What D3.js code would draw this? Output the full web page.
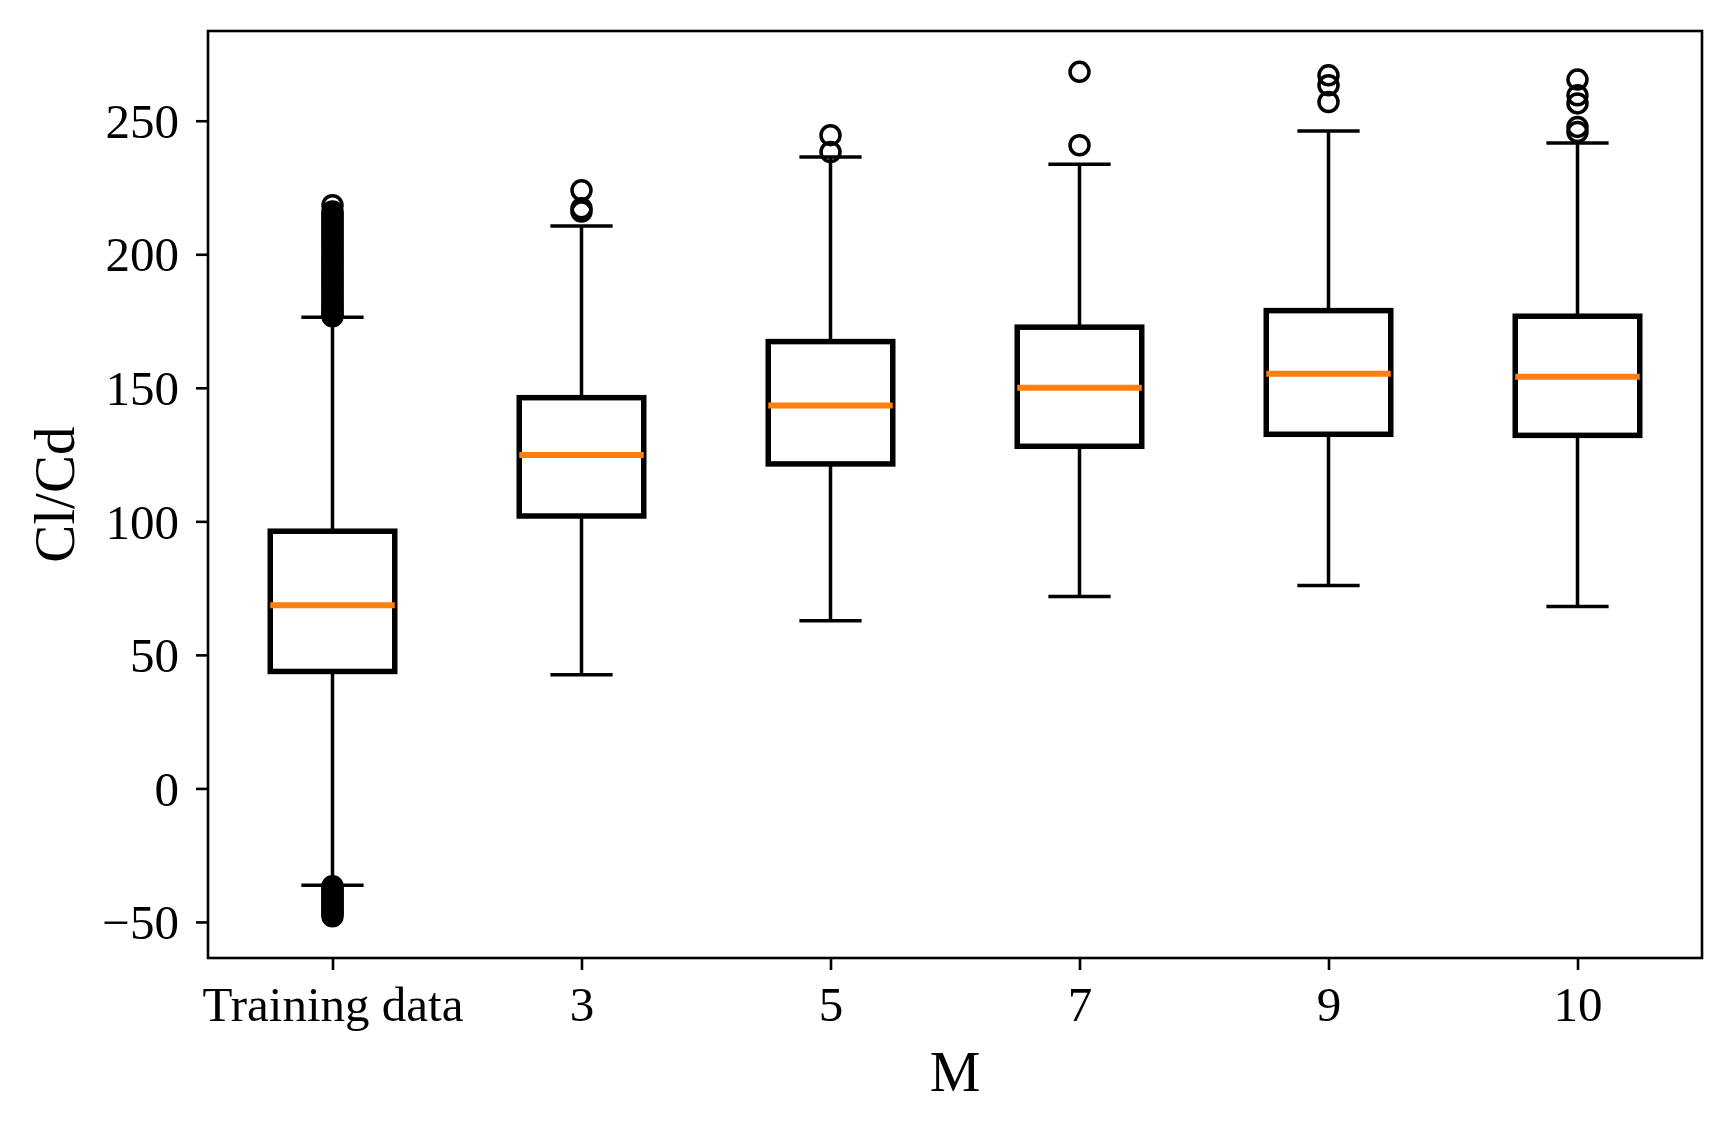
<!DOCTYPE html>
<html>
<head>
    <title>Cl/Cd box plot</title>
    <style>
        body { margin: 0; background: #fff; }
        svg text { font-family: "Liberation Serif", "Times New Roman", serif; fill: #000; }
        .tick text { font-size: 49px; }
        .axis-label { font-size: 57px; }
    </style>
</head>
<body>
    <div id="chart"></div>

    <script src="https://d3js.org/d3.v7.min.js"></script>
    <script>
        // box statistics
        var categories = ["Training data", "3", "5", "7", "9", "10"];
        var q1 = [43.8, 102.0, 121.5, 128.1, 132.6, 132.2];
        var medians = [68.6, 124.8, 143.4, 150.0, 155.3, 154.1];
        var q3 = [96.3, 146.3, 167.3, 172.7, 178.9, 176.8];
        var whiskerLow = [-36.3, 42.6, 62.8, 71.9, 76.0, 68.1];
        var whiskerHigh = [176.4, 210.6, 236.4, 233.7, 246.2, 241.7];
        var fliers = [
            [176.8, 177.6, 178.5, 179.3, 180.2, 181, 182, 183, 184, 185, 186, 187, 188, 189, 190,
             191, 192, 193, 194, 195, 196, 197, 198, 199, 200, 201, 202, 203, 204, 205, 206, 207,
             208, 209, 210, 211, 212, 213, 214, 215, 216, 218.4,
             -36.6, -37.4, -38.2, -39, -39.8, -40.6, -41.4, -42.2, -43, -43.8, -44.6, -45.4,
             -46.2, -47, -47.9],
            [216.0, 217.2, 224.0],
            [238.3, 244.6],
            [240.8, 268.3],
            [257.0, 263.3, 267.0],
            [245.8, 247.7, 256.5, 259.5, 265.4]
        ];
        var yTicks = [-50, 0, 50, 100, 150, 200, 250];

        var width = 1733, height = 1134;
        var margin = { top: 31, right: 31, bottom: 176, left: 208 };

        var svg = d3.select("#chart").append("svg")
            .attr("width", width)
            .attr("height", height);

        var x = d3.scaleLinear()
            .domain([0.5, categories.length + 0.5])
            .range([margin.left, width - margin.right]);

        var y = d3.scaleLinear()
            .domain([-63.5, 283.6])
            .range([height - margin.bottom, margin.top]);

        var boxW = x(1.25) - x(1);
        var capW = x(1.125) - x(1);

        var groups = svg.selectAll(".box")
            .data(categories)
            .enter().append("g")
            .attr("class", "box");

        // whiskers
        groups.append("line")
            .attr("x1", function (d, i) { return x(i + 1); })
            .attr("x2", function (d, i) { return x(i + 1); })
            .attr("y1", function (d, i) { return y(q1[i]); })
            .attr("y2", function (d, i) { return y(whiskerLow[i]); })
            .attr("stroke", "#000").attr("stroke-width", 3.5);
        groups.append("line")
            .attr("x1", function (d, i) { return x(i + 1); })
            .attr("x2", function (d, i) { return x(i + 1); })
            .attr("y1", function (d, i) { return y(q3[i]); })
            .attr("y2", function (d, i) { return y(whiskerHigh[i]); })
            .attr("stroke", "#000").attr("stroke-width", 3.5);

        // caps
        [whiskerLow, whiskerHigh].forEach(function (w) {
            groups.append("line")
                .attr("x1", function (d, i) { return x(i + 1) - capW; })
                .attr("x2", function (d, i) { return x(i + 1) + capW; })
                .attr("y1", function (d, i) { return y(w[i]); })
                .attr("y2", function (d, i) { return y(w[i]); })
                .attr("stroke", "#000").attr("stroke-width", 3.5);
        });

        // boxes
        groups.append("rect")
            .attr("x", function (d, i) { return x(i + 1) - boxW; })
            .attr("y", function (d, i) { return y(q3[i]); })
            .attr("width", boxW * 2)
            .attr("height", function (d, i) { return y(q1[i]) - y(q3[i]); })
            .attr("fill", "none")
            .attr("stroke", "#000")
            .attr("stroke-width", 5.5);

        // medians
        groups.append("line")
            .attr("x1", function (d, i) { return x(i + 1) - boxW; })
            .attr("x2", function (d, i) { return x(i + 1) + boxW; })
            .attr("y1", function (d, i) { return y(medians[i]); })
            .attr("y2", function (d, i) { return y(medians[i]); })
            .attr("stroke", "#ff7f0e").attr("stroke-width", 6);

        // outliers
        groups.each(function (d, i) {
            d3.select(this).selectAll("circle")
                .data(fliers[i])
                .enter().append("circle")
                .attr("cx", x(i + 1))
                .attr("cy", function (v) { return y(v); })
                .attr("r", 9.5)
                .attr("fill", "none")
                .attr("stroke", "#000")
                .attr("stroke-width", 3.5);
        });

        // axes
        var xAxis = d3.axisBottom(x)
            .tickValues(d3.range(1, categories.length + 1))
            .tickFormat(function (d) { return categories[d - 1]; })
            .tickSize(12).tickPadding(16);
        var yAxis = d3.axisLeft(y)
            .tickValues(yTicks)
            .tickFormat(function (d) { return d < 0 ? "\u2212" + Math.abs(d) : d; })
            .tickSize(12).tickPadding(17);

        var gx = svg.append("g")
            .attr("transform", "translate(0," + (height - margin.bottom) + ")")
            .call(xAxis);
        var gy = svg.append("g")
            .attr("transform", "translate(" + margin.left + ",0)")
            .call(yAxis);
        [gx, gy].forEach(function (g) {
            g.select(".domain").remove();
            g.selectAll(".tick line").attr("stroke", "#000").attr("stroke-width", 2.6);
            g.selectAll(".tick text").attr("font-family", null).attr("font-size", null);
        });
        gy.selectAll(".tick text").attr("dy", "0.34em");

        // frame
        svg.append("rect")
            .attr("x", margin.left)
            .attr("y", margin.top)
            .attr("width", width - margin.left - margin.right)
            .attr("height", height - margin.top - margin.bottom)
            .attr("fill", "none")
            .attr("stroke", "#000")
            .attr("stroke-width", 2.6);

        svg.append("text")
            .attr("class", "axis-label")
            .attr("x", (margin.left + width - margin.right) / 2)
            .attr("y", 1091)
            .attr("text-anchor", "middle")
            .text("M");

        svg.append("text")
            .attr("class", "axis-label")
            .attr("transform", "translate(74," + y(110) + ") rotate(-90)")
            .attr("text-anchor", "middle")
            .text("Cl/Cd");
    </script>
</body>
</html>
